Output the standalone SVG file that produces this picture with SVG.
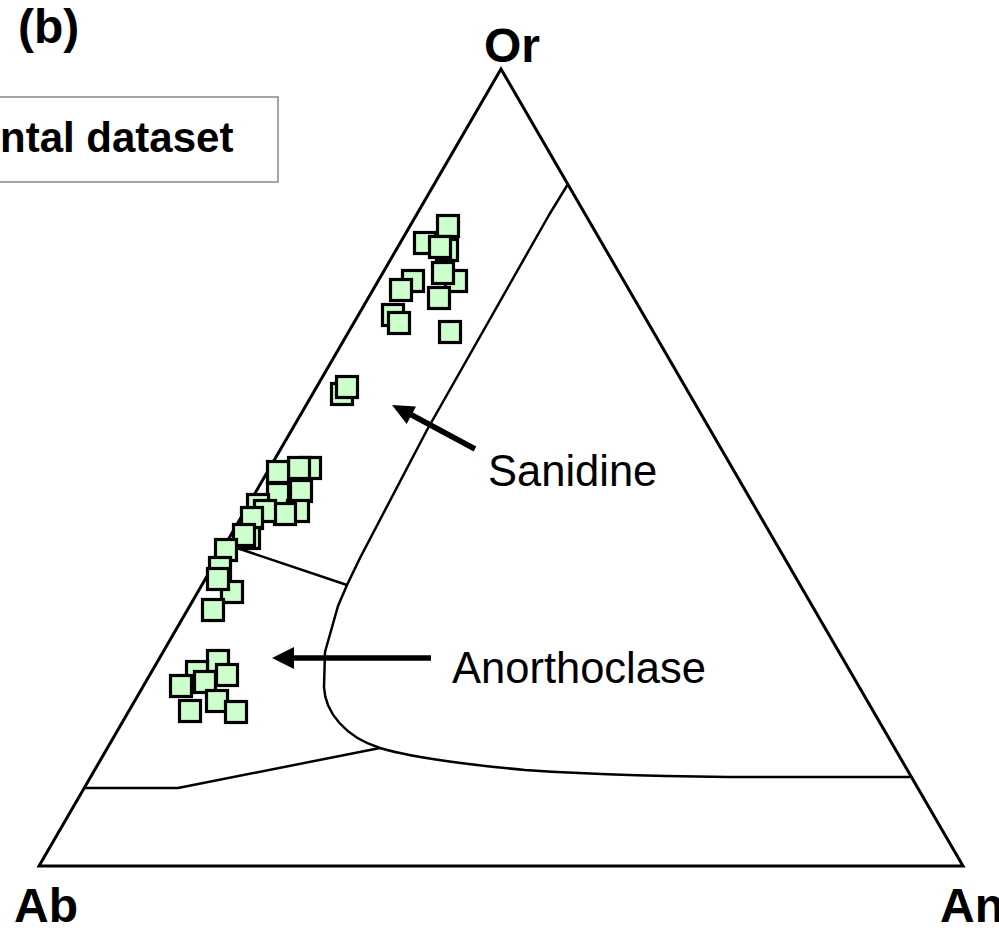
<svg xmlns="http://www.w3.org/2000/svg" width="999" height="944" viewBox="0 0 999 944">
<style>
.lbl{font-family:"Liberation Sans",Arial,sans-serif;font-weight:bold;fill:#000}
.txt{font-family:"Liberation Sans",Arial,sans-serif;fill:#000}
.bnd{fill:none;stroke:#000;stroke-width:2.5;stroke-linejoin:round}
.sq{fill:#ccffcc;stroke:#000;stroke-width:3.2}
.arr{stroke:#000;stroke-width:5.5;fill:none}
</style>
<defs>
<rect id="s" x="-10.5" y="-10.5" width="21" height="21" class="sq"/>
</defs>
<rect width="999" height="944" fill="#fff"/>
<g id="frame">
<polygon points="501,69 39,866 963,866" fill="none" stroke="#000" stroke-width="3" stroke-linejoin="miter"/>
</g>
<g id="boundaries">
<path class="bnd" d="M568,184 L549,215 L427,430 L360,558 L347,585 L338,606 L325,652 L324,687 C325,712 345,737 380,748 C410,757 460,764 525,770 C600,775 680,777 760,777 L910,777"/>
<path class="bnd" d="M228,545 L347,585"/>
<path class="bnd" d="M84,788 L178,788 L380,748"/>
</g>
<g id="legend">
<rect x="-5" y="97" width="283" height="85" fill="#fff" stroke="#888" stroke-width="1.5"/>
<text class="lbl" x="0" y="152" font-size="42">ntal dataset</text>
</g>
<g id="panel-label"><text class="lbl" x="18" y="43" font-size="48">(b)</text></g>
<g id="vertex-Or"><text class="lbl" x="484" y="62" font-size="48">Or</text></g>
<g id="vertex-Ab"><text class="lbl" x="14" y="922" font-size="48">Ab</text></g>
<g id="vertex-An"><text class="lbl" x="940" y="922" font-size="48">An</text></g>
<g id="data">
<use href="#s" x="448" y="226"/>
<use href="#s" x="447" y="250"/>
<use href="#s" x="425" y="243"/>
<use href="#s" x="440" y="247"/>
<use href="#s" x="456" y="281"/>
<use href="#s" x="443" y="273"/>
<use href="#s" x="413" y="281"/>
<use href="#s" x="401" y="290"/>
<use href="#s" x="439" y="298"/>
<use href="#s" x="393" y="315"/>
<use href="#s" x="399" y="323"/>
<use href="#s" x="450" y="332"/>
<use href="#s" x="342" y="394"/>
<use href="#s" x="347" y="387"/>
<use href="#s" x="310" y="468"/>
<use href="#s" x="299" y="468"/>
<use href="#s" x="278" y="472"/>
<use href="#s" x="301" y="491"/>
<use href="#s" x="278" y="494"/>
<use href="#s" x="298" y="511"/>
<use href="#s" x="285" y="514"/>
<use href="#s" x="258" y="505"/>
<use href="#s" x="265" y="511"/>
<use href="#s" x="252" y="518"/>
<use href="#s" x="249" y="538"/>
<use href="#s" x="244" y="535"/>
<use href="#s" x="226" y="550"/>
<use href="#s" x="220" y="568"/>
<use href="#s" x="232" y="592"/>
<use href="#s" x="218" y="579"/>
<use href="#s" x="213" y="610"/>
<use href="#s" x="218" y="661"/>
<use href="#s" x="197" y="672"/>
<use href="#s" x="205" y="682"/>
<use href="#s" x="227" y="675"/>
<use href="#s" x="181" y="686"/>
<use href="#s" x="217" y="701"/>
<use href="#s" x="190" y="711"/>
<use href="#s" x="236" y="712"/>
</g>
<g id="connectors">
<line class="arr" x1="475" y1="449" x2="408" y2="413"/>
<polygon points="392,405 416,406.5 406.7,424" fill="#000"/>
<line class="arr" x1="431" y1="658" x2="290" y2="658"/>
<polygon points="272,658 294,647 294,669" fill="#000"/>
</g>
<g id="label-sanidine"><text class="txt" x="488" y="486" font-size="43.5">Sanidine</text></g>
<g id="label-anorthoclase"><text class="txt" x="452" y="683" font-size="43.5">Anorthoclase</text></g>
</svg>
